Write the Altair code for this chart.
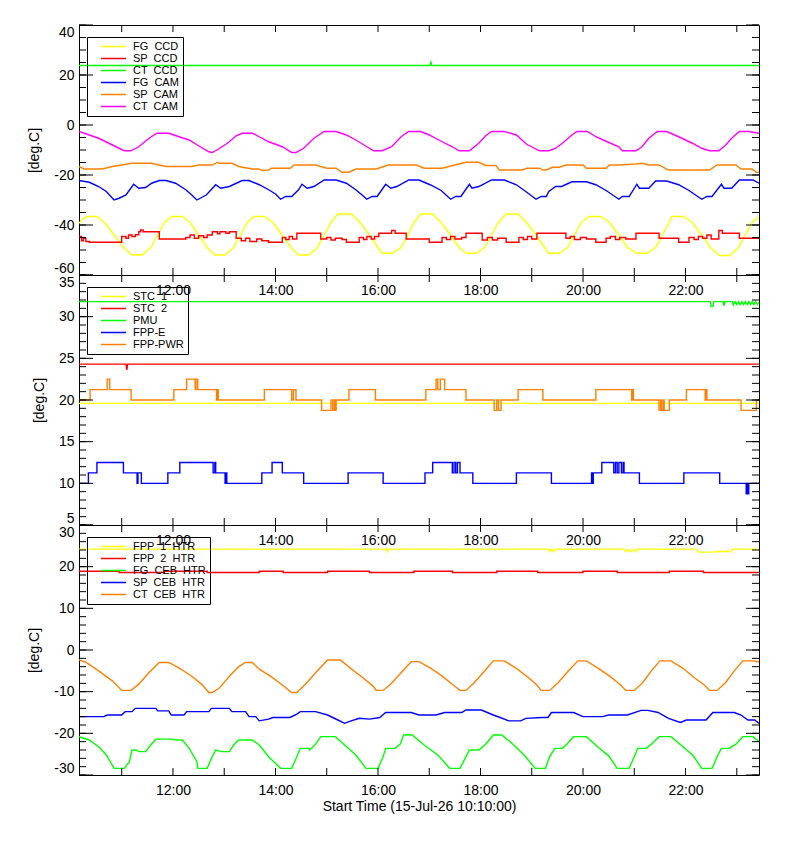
import pandas as pd
import altair as alt

FONT = "Liberation Sans"
START = pd.Timestamp("2026-07-15 10:10:00")
DAY = pd.Timestamp("2026-07-15")
HOURS = list(range(11, 24))
W, H = 680, 250
SP = " \u00a0"  # the original labels use a double space between words

# ---------------- panel 1: CCD / camera temperatures (minutes after start, deg.C)
P1_NAMES = [f"FG{SP}CCD", f"SP{SP}CCD", f"CT{SP}CCD", f"FG{SP}CAM", f"SP{SP}CAM", f"CT{SP}CAM"]
P1_COLORS = ["#ffff00", "#ff0000", "#00ff00", "#0000ff", "#ff8000", "#ff00ff"]
P1_MAJOR = [-60, -40, -20, 0, 20, 40]
P1_MINOR = list(range(-60, 41, 5))

FG_CCD = [(0, -39.3), (5, -37.5), (9, -36.6), (21, -36.6), (30, -39), (41, -44), (52, -49), (62, -52),
          (74, -52), (84, -49), (92, -44), (100, -39), (109, -36.6), (121, -36.6), (130, -39), (140, -44),
          (150, -49), (159, -52), (171, -52), (181, -49), (189, -44), (197, -39), (205, -36.6), (217, -36.6),
          (227, -39), (238, -44), (248, -49), (257, -52), (269, -52), (279, -49), (287, -44), (295, -39),
          (303, -35.6), (319, -35.6), (329, -39), (340, -44), (350, -49), (355, -51.3), (367, -51.3),
          (377, -49), (385, -44), (392, -39), (400, -35.6), (414, -35.6), (424, -39), (435, -44), (445, -49),
          (453, -51.3), (465, -51.3), (475, -49), (483, -44), (491, -39), (500, -35.6), (514, -35.6),
          (524, -39), (535, -44), (545, -49), (550, -51.3), (562, -51.3), (572, -49), (580, -44), (588, -39),
          (597, -36.6), (611, -36.6), (621, -39), (632, -44), (642, -49), (653, -51.3), (665, -51.3),
          (675, -49), (683, -44), (691, -39), (694, -36.6), (708, -36.6), (718, -39), (729, -44), (739, -49),
          (750, -52.2), (762, -52.2), (772, -49), (780, -44), (788, -39), (796, -36.6)]
SP_CCD = [(0, -44.6), (3, -46.3), (5, -45.3), (8, -46.6), (12, -46.9), (50, -44.6), (55, -45.3), (58, -44.0),
          (62, -44.6), (66, -43.9), (70, -42.7), (72, -42.0), (75, -42.7), (94, -45.6), (125, -45.0),
          (130, -44.0), (135, -45.3), (140, -44.3), (146, -45.0), (150, -44.0), (156, -42.7), (162, -43.5),
          (165, -42.7), (172, -43.3), (176, -42.7), (184, -45.3), (190, -46.3), (195, -45.3), (200, -46.6),
          (208, -45.6), (214, -46.3), (222, -46.9), (238, -45.0), (242, -45.8), (246, -44.6), (250, -45.6),
          (255, -43.3), (283, -45.6), (290, -45.0), (295, -46.0), (300, -45.3), (308, -45.8), (313, -46.9),
          (328, -45.0), (333, -45.8), (337, -44.6), (342, -45.6), (346, -44.6), (351, -43.3), (366, -42.2),
          (370, -43.3), (383, -45.6), (410, -46.9), (425, -45.0), (430, -45.8), (435, -44.6), (440, -45.6),
          (448, -45.0), (453, -43.3), (472, -46.0), (478, -45.0), (484, -46.0), (490, -45.3), (500, -46.9),
          (515, -45.0), (520, -45.8), (525, -44.6), (530, -45.6), (536, -43.3), (570, -45.3), (575, -44.6),
          (580, -45.8), (587, -45.0), (594, -45.6), (605, -46.9), (617, -45.3), (622, -44.6), (628, -45.8),
          (633, -45.0), (640, -45.6), (652, -43.3), (679, -45.3), (702, -46.9), (714, -45.0), (720, -45.8),
          (725, -44.6), (730, -45.3), (735, -44.0), (740, -45.6), (749, -42.2), (753, -43.3), (773, -45.3),
          (796, -45.3)]
CT_CCD = [(0, 23.8), (411, 23.8), (412, 25.1), (413, 23.8), (796, 23.8)]
FG_CAM = [(0, -22.2), (12, -22.9), (23, -24.6), (32, -26.6), (41, -30.0), (47, -29.3), (55, -28.0), (64, -23.7),
          (70, -25.3), (78, -25.0), (85, -23.3), (94, -22.2), (102, -22.2), (113, -23.3), (125, -25.9),
          (132, -28.0), (138, -30.0), (149, -28.0), (160, -23.9), (166, -25.3), (176, -24.6), (191, -22.2),
          (199, -22.2), (211, -23.9), (222, -25.9), (230, -27.6), (236, -29.7), (242, -28.6), (249, -28.6),
          (257, -25.9), (261, -23.7), (267, -25.3), (275, -24.6), (287, -22.0), (301, -22.0), (313, -23.3),
          (324, -25.9), (331, -27.9), (337, -29.7), (343, -28.6), (349, -28.6), (359, -23.7), (365, -25.3),
          (372, -24.6), (386, -22.0), (398, -22.0), (411, -23.9), (424, -26.2), (435, -29.7), (441, -28.6),
          (447, -28.6), (457, -23.7), (460, -25.3), (468, -24.6), (483, -22.0), (498, -22.0), (512, -23.9),
          (523, -26.6), (535, -29.7), (541, -28.6), (547, -28.6), (550, -26.6), (555, -25.3), (558, -24.6),
          (565, -24.6), (577, -22.7), (594, -22.7), (605, -23.9), (617, -26.2), (632, -29.7), (636, -28.6),
          (644, -28.6), (653, -23.7), (656, -25.3), (667, -25.3), (675, -22.4), (688, -22.4), (702, -23.9),
          (714, -26.2), (729, -29.7), (735, -28.6), (741, -28.6), (752, -23.7), (755, -25.3), (764, -25.3),
          (773, -22.0), (789, -22.0), (796, -23.3)]
SP_CAM = [(0, -16.6), (6, -17.6), (27, -17.6), (39, -16.6), (50, -16.0), (62, -15.3), (85, -15.3), (94, -16.0),
          (102, -16.6), (132, -16.6), (140, -16.0), (156, -16.0), (162, -14.9), (164, -15.3), (179, -15.3),
          (187, -16.6), (203, -17.6), (211, -17.6), (214, -18.2), (222, -18.0), (225, -17.3), (247, -17.3),
          (252, -16.0), (277, -16.0), (290, -17.3), (301, -17.3), (308, -18.9), (316, -18.9), (324, -17.6),
          (348, -17.6), (362, -16.0), (395, -16.0), (404, -17.3), (425, -17.3), (446, -15.5), (453, -14.9),
          (468, -14.9), (476, -16.2), (488, -16.2), (492, -18.0), (519, -18.0), (524, -17.3), (539, -17.3),
          (543, -18.0), (547, -18.0), (554, -16.9), (562, -16.9), (570, -16.0), (590, -16.0), (594, -17.3),
          (617, -17.3), (621, -16.0), (632, -16.0), (652, -15.6), (659, -15.3), (667, -16.0), (679, -16.0),
          (690, -18.0), (738, -18.0), (747, -16.0), (769, -16.0), (775, -17.6), (788, -17.6), (793, -18.9),
          (796, -18.9)]
CT_CAM = [(0, -2.6), (12, -4.0), (23, -5.3), (35, -7.3), (47, -9.3), (53, -10.3), (61, -10.3), (70, -8.7),
          (82, -5.3), (91, -3.3), (105, -3.3), (117, -4.7), (129, -6.0), (140, -8.3), (152, -10.7),
          (156, -11.0), (164, -9.5), (176, -6.7), (184, -4.3), (191, -3.3), (203, -3.3), (211, -4.7),
          (222, -6.7), (238, -8.7), (249, -11.0), (254, -11.0), (263, -9.3), (275, -5.3), (287, -2.6),
          (301, -2.6), (313, -4.0), (324, -6.0), (337, -8.7), (345, -10.3), (355, -10.3), (366, -8.7),
          (377, -4.7), (386, -2.6), (400, -2.6), (410, -4.0), (424, -6.5), (437, -8.7), (445, -10.3),
          (457, -10.3), (468, -7.3), (476, -4.3), (483, -2.6), (498, -2.6), (512, -4.0), (524, -7.7),
          (539, -10.3), (550, -10.3), (558, -9.3), (568, -6.7), (577, -4.0), (583, -2.6), (595, -2.6),
          (605, -4.7), (617, -6.5), (632, -8.7), (636, -10.3), (652, -10.3), (659, -8.7), (667, -5.3),
          (677, -2.6), (688, -2.6), (702, -4.7), (718, -7.3), (729, -9.3), (738, -10.3), (749, -10.3),
          (757, -8.0), (764, -5.3), (773, -2.6), (784, -2.6), (796, -3.3)]

# ---------------- panel 2: electronics temperatures
P2_NAMES = [f"STC{SP}1", f"STC{SP}2", "PMU", "FPP-E", "FPP-PWR"]
P2_COLORS = ["#ffff00", "#ff0000", "#00ff00", "#0000ff", "#ff8000"]
P2_MAJOR = [5, 10, 15, 20, 25, 30, 35]
P2_MINOR = list(range(5, 36))

STC_1 = [(0, 19.6), (796, 19.6)]
STC_2 = [(0, 24.3), (55, 24.3), (56, 23.6), (57, 24.3), (796, 24.3)]
PMU = [(0, 31.8), (739, 31.8), (740, 31.2), (742, 31.2), (743, 31.8), (754, 31.8), (755, 31.3), (756, 31.8),
       (765, 31.8), (766, 31.4), (768, 31.8), (770, 31.45), (772, 31.8), (774, 31.45), (776, 31.8),
       (778, 31.45), (780, 31.8), (782, 31.45), (784, 31.8), (786, 31.45), (788, 31.8), (790, 31.45),
       (792, 31.8), (794, 31.45), (796, 31.7)]
FPP_E = [(0, 10), (11, 11.25), (21, 12.5), (52, 11.25), (68, 10), (69, 11.25), (73, 10), (104, 11.25),
         (118, 12.5), (157, 11.25), (159, 12.5), (160, 11.25), (171, 10), (172, 11.25), (173, 10), (214, 11.25),
         (226, 12.5), (238, 11.25), (263, 10), (315, 11.25), (356, 10), (405, 11.25), (414, 12.5), (437, 11.25),
         (439, 12.5), (441, 11.25), (443, 12.5), (446, 11.25), (461, 10), (512, 11.25), (553, 10), (600, 11.25),
         (601, 10), (602, 11.25), (612, 12.5), (626, 11.25), (628, 12.5), (630, 11.25), (632, 12.5),
         (635, 11.25), (637, 12.5), (638, 11.25), (656, 10), (708, 11.25), (750, 10), (781, 8.75), (782, 10),
         (783, 8.75), (784, 10), (796, 10)]
FPP_PWR = [(0, 20), (13, 21.25), (33, 22.5), (36, 21.25), (61, 20), (111, 21.25), (126, 22.5), (136, 21.25),
           (137, 22.5), (139, 21.25), (161, 20), (162, 21.25), (163, 20), (217, 21.25), (249, 20), (251, 21.25),
           (254, 20), (284, 18.75), (295, 20), (297, 18.75), (299, 20), (300, 18.75), (301, 20), (316, 21.25),
           (347, 20), (406, 21.25), (418, 22.5), (420, 21.25), (423, 22.5), (428, 21.25), (453, 20),
           (486, 18.75), (489, 20), (491, 18.75), (494, 20), (514, 21.25), (543, 20), (605, 21.25), (647, 20),
           (648, 21.25), (649, 20), (679, 18.75), (681, 20), (682, 18.75), (684, 20), (685, 18.75), (691, 20),
           (711, 21.25), (733, 20), (734, 21.25), (735, 20), (775, 18.75), (793, 20), (796, 20)]

# ---------------- panel 3: heaters
P3_NAMES = [f"FPP{SP}1{SP}HTR", f"FPP{SP}2{SP}HTR", f"FG{SP}CEB{SP}HTR", f"SP{SP}CEB{SP}HTR", f"CT{SP}CEB{SP}HTR"]
P3_COLORS = ["#ffff00", "#ff0000", "#00ff00", "#0000ff", "#ff8000"]
P3_MAJOR = [-30, -20, -10, 0, 10, 20, 30]
P3_MINOR = list(range(-30, 31, 2))

FPP1_HTR = [(0, 24.2), (360, 24.2), (361, 23.6), (362, 24.2), (550, 24.2), (551, 23.6), (553, 24.2),
            (556, 23.6), (558, 24.2), (638, 24.2), (640, 23.6), (643, 24.2), (646, 23.6), (649, 24.2),
            (652, 23.6), (654, 24.2), (723, 24.2), (725, 23.5), (745, 23.5), (748, 23.8), (750, 23.5),
            (753, 23.8), (756, 23.5), (759, 23.8), (762, 23.5), (765, 24.2), (796, 24.2)]
FPP2_HTR = [(0, 18.9), (47, 18.6), (100, 18.9), (150, 18.6), (211, 18.9), (239, 18.6), (291, 18.9), (340, 18.6),
            (392, 18.9), (437, 18.6), (489, 18.9), (537, 18.6), (590, 18.9), (630, 18.6), (691, 18.9),
            (731, 18.6), (796, 18.6)]
FG_CEB = [(0, -20.8), (12, -21.6), (23, -23.2), (32, -25.2), (41, -28.4), (53, -28.4), (59, -26.8), (62, -24.0),
          (67, -24.0), (70, -24.4), (78, -24.4), (84, -22.8), (90, -21.4), (109, -21.4), (114, -21.6),
          (121, -21.6), (129, -23.6), (138, -26.8), (139, -28.4), (150, -28.4), (156, -25.6), (160, -24.0),
          (167, -24.4), (176, -24.4), (181, -22.8), (187, -21.6), (203, -21.6), (211, -22.8), (222, -25.6),
          (236, -28.4), (249, -28.4), (255, -25.6), (259, -23.6), (269, -23.6), (270, -24.0), (277, -22.6),
          (283, -20.8), (300, -20.8), (311, -22.8), (324, -25.2), (336, -28.4), (350, -28.4), (356, -25.6),
          (359, -23.6), (370, -23.6), (376, -22.6), (380, -20.4), (390, -20.4), (404, -22.8), (420, -25.2),
          (434, -28.4), (446, -28.4), (453, -25.6), (457, -24.0), (468, -24.0), (476, -22.6), (485, -20.4),
          (495, -20.4), (509, -22.8), (521, -25.2), (534, -28.4), (546, -28.4), (551, -25.6), (557, -23.6),
          (566, -23.6), (571, -22.6), (579, -20.8), (594, -20.8), (609, -23.6), (620, -25.4), (630, -28.4),
          (644, -28.4), (650, -25.6), (654, -23.6), (664, -23.6), (670, -22.6), (679, -20.8), (693, -20.8),
          (707, -23.2), (719, -25.4), (729, -28.4), (741, -28.4), (747, -25.6), (752, -23.6), (761, -23.6),
          (769, -22.6), (777, -20.8), (789, -20.8), (796, -22.0)]
SP_CEB = [(0, -16.0), (29, -16.0), (33, -15.6), (50, -15.6), (54, -14.8), (62, -14.8), (66, -14.0), (90, -14.0),
          (92, -14.6), (105, -14.6), (108, -15.6), (123, -15.6), (126, -14.8), (152, -14.8), (155, -14.0),
          (176, -14.0), (179, -14.8), (195, -14.8), (199, -16.0), (207, -16.0), (211, -17.0), (222, -16.6),
          (227, -16.2), (247, -16.2), (255, -15.4), (259, -14.8), (277, -14.8), (291, -15.6), (303, -16.8),
          (311, -17.6), (316, -17.2), (328, -16.4), (340, -16.6), (352, -16.2), (359, -15.0), (389, -15.0),
          (398, -15.6), (418, -15.6), (428, -15.0), (448, -15.0), (453, -14.4), (471, -14.4), (485, -15.6),
          (493, -16.2), (503, -17.0), (517, -17.0), (523, -16.4), (542, -16.2), (549, -16.2), (553, -15.0),
          (579, -15.0), (590, -16.0), (613, -16.0), (620, -15.6), (642, -15.6), (658, -14.5), (666, -14.5),
          (678, -15.0), (690, -16.4), (704, -17.4), (711, -16.8), (734, -16.8), (742, -15.0), (767, -15.0),
          (775, -15.6), (783, -16.8), (791, -16.8), (796, -17.6)]
CT_CEB = [(0, -2.4), (8, -2.9), (23, -5.0), (39, -7.4), (50, -9.7), (61, -9.7), (70, -8.2), (82, -5.4),
          (94, -3.0), (105, -3.0), (117, -4.3), (132, -6.3), (144, -8.3), (152, -10.2), (156, -10.2),
          (164, -9.2), (176, -6.3), (187, -4.0), (195, -3.0), (203, -3.0), (211, -4.6), (225, -6.4),
          (238, -8.4), (249, -10.2), (255, -10.2), (265, -8.2), (278, -5.2), (291, -2.4), (306, -2.4),
          (318, -4.4), (332, -6.6), (344, -8.6), (348, -9.7), (356, -9.7), (366, -8.0), (378, -5.2),
          (389, -2.8), (398, -2.8), (412, -4.4), (426, -6.4), (438, -8.4), (446, -9.7), (453, -9.7),
          (462, -8.0), (474, -5.2), (485, -2.6), (498, -2.6), (512, -4.4), (526, -6.6), (536, -8.4),
          (541, -9.7), (551, -9.7), (561, -7.8), (573, -5.0), (584, -2.6), (594, -2.6), (608, -4.4),
          (622, -6.4), (634, -8.4), (640, -9.7), (650, -9.7), (660, -7.8), (670, -5.0), (680, -2.6),
          (693, -2.6), (707, -4.4), (720, -6.6), (732, -8.4), (738, -9.7), (747, -9.7), (757, -7.8),
          (767, -5.0), (777, -2.6), (789, -2.6), (796, -2.9)]


def to_frame(names, series, stepped):
    rows = []
    for name, pts in zip(names, series):
        for m, v in pts:
            rows.append({"t": START + pd.Timedelta(minutes=m), "v": v,
                         "name": name, "step": name in stepped})
    return pd.DataFrame(rows)


def dt(h, m=0):
    return alt.DateTime(year=2026, month=7, date=15, hours=h, minutes=m)


X_SCALE = alt.Scale(domain=[dt(10, 10), dt(23, 26)])
HOUR_TICKS = [dt(h) for h in HOURS]
HOUR_FRAME = pd.DataFrame({"t": [DAY + pd.Timedelta(hours=h) for h in HOURS]})


def tick_rules(values, ys, x0, x1):
    return alt.Chart(pd.DataFrame({"v": values})).mark_rule(color="black", strokeWidth=1).encode(
        y=alt.Y("v:Q", scale=ys, axis=None), x=alt.value(x0), x2=alt.value(x1))


def hour_rules(y0, y1):
    return alt.Chart(HOUR_FRAME).mark_rule(color="black", strokeWidth=1).encode(
        x=alt.X("t:T", axis=None), y=alt.value(y0), y2=alt.value(y1))


def panel(df, names, colors, y_domain, majors, minors, x_title=None):
    # legend box is see-through: curves and the hour labels above show through it
    legend = alt.Legend(title=None, orient="none", legendX=8, legendY=12,
                        strokeColor="black", padding=4, rowPadding=0,
                        symbolType="M-5,0H5", symbolSize=25, symbolStrokeWidth=1.5,
                        symbolOffset=17, labelOffset=14,
                        labelFont=FONT, labelFontSize=11, labelColor="black")
    color = alt.Color("name:N", scale=alt.Scale(domain=names, range=colors), legend=legend)
    ys = alt.Scale(domain=y_domain, nice=False, zero=False)

    x_axis = alt.Axis(orient="bottom", values=HOUR_TICKS, ticks=False,
                      labelExpr="hours(datum.value) % 2 == 0 ? timeFormat(datum.value, '%H:%M') : ''",
                      labelFlush=False, labelPadding=8, title=x_title, titlePadding=2)
    y_axis = alt.Axis(orient="left", values=majors, ticks=False, labelFlush=True,
                      labelExpr="'' + datum.value", labelPadding=5, title="[deg.C]", titlePadding=12)

    base = alt.Chart(df)
    lines = base.transform_filter("!datum.step").mark_line(strokeWidth=1.4, clip=True).encode(
        x=alt.X("t:T", scale=X_SCALE, axis=x_axis),
        y=alt.Y("v:Q", scale=ys, axis=y_axis),
        color=color,
    )
    steps = base.transform_filter("datum.step").mark_line(
        strokeWidth=1.4, clip=True, interpolate="step-after").encode(
        x=alt.X("t:T", axis=None),
        y=alt.Y("v:Q", axis=None),
        color=color,
    )
    ticks = [
        tick_rules(majors, ys, 0, 14),
        tick_rules(minors, ys, 0, 7),
        tick_rules(majors, ys, W - 13, W),
        tick_rules(minors, ys, W - 7, W),
        hour_rules(0, 7),
        hour_rules(H - 7, H),
    ]
    return alt.layer(lines, steps, *ticks).resolve_axis(
        x="independent", y="independent").properties(width=W, height=H)


df1 = to_frame(P1_NAMES, [FG_CCD, SP_CCD, CT_CCD, FG_CAM, SP_CAM, CT_CAM], [P1_NAMES[1]])
df2 = to_frame(P2_NAMES, [STC_1, STC_2, PMU, FPP_E, FPP_PWR], ["FPP-E", "FPP-PWR"])
df3 = to_frame(P3_NAMES, [FPP1_HTR, FPP2_HTR, FG_CEB, SP_CEB, CT_CEB], [P3_NAMES[1]])

p1 = panel(df1, P1_NAMES, P1_COLORS, [-60, 40], P1_MAJOR, P1_MINOR)
p2 = panel(df2, P2_NAMES, P2_COLORS, [5, 35], P2_MAJOR, P2_MINOR)
p3 = panel(df3, P3_NAMES, P3_COLORS, [-30, 30], P3_MAJOR, P3_MINOR,
           x_title="Start Time (15-Jul-26 10:10:00)")

chart = alt.vconcat(p1, p2, p3, spacing=0, bounds="flush").resolve_scale(
    color="independent"
).resolve_legend(
    color="independent"
).properties(
    padding={"left": 19, "top": 16, "right": 10, "bottom": 10},
    background="white",
).configure_view(
    stroke="black", strokeWidth=1
).configure_axis(
    labelFont=FONT, labelFontSize=14, labelColor="black",
    titleFont=FONT, titleFontSize=14, titleFontWeight="normal", titleColor="black",
    domain=False, grid=False,
).configure_legend(
    rowPadding=0
)

chart.save("out.html", embed_options={"renderer": "svg", "actions": False})
